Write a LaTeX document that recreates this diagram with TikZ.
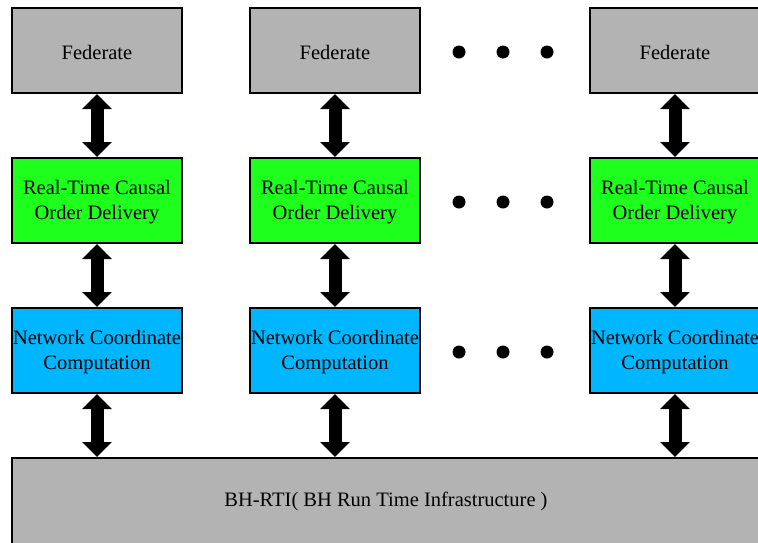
\documentclass[tikz,border=0pt]{standalone}
\usepackage{fontspec}
\setmainfont{Liberation Serif}
\usetikzlibrary{arrows.meta}
\definecolor{boxgray}{RGB}{179,179,179}
\definecolor{boxgreen}{RGB}{30,255,30}
\definecolor{boxblue}{RGB}{0,183,255}
\begin{document}
\begin{tikzpicture}[x=1pt,y=-1pt,
  blk/.style={draw=black, line width=2pt, rectangle, minimum width=170pt, minimum height=85pt, inner sep=0pt},
  txt/.style={inner sep=0pt, align=center, font=\fontsize{20.5}{25}\selectfont},
  fed/.style={blk, fill=boxgray},
  rtc/.style={blk, fill=boxgreen},
  ncc/.style={blk, fill=boxblue},
  dbl/.style={line width=13pt, {Triangle[width=29pt,length=15pt]}-{Triangle[width=29pt,length=15pt]}},
  dotc/.style={circle, fill=black, inner sep=0pt, minimum size=13pt}
]
\useasboundingbox (0,0) rectangle (758,542);
\begin{scope}
\clip (0,0) rectangle (758,542);
\foreach \n/\x in {1/97,2/335,3/675}{
  \node[fed] (f\n) at (\x,50.5) {};
  \node[txt] (f\n t) at ([yshift=-2pt]f\n.center) {Federate};
  \node[rtc] (r\n) at (\x,200.5) {};
  \node[txt] (r\n t) at ([yshift=-2pt]r\n.center) {Real-Time Causal\\Order Delivery};
  \node[ncc] (c\n) at (\x,350.5) {};
  \node[txt] (c\n t) at ([yshift=-2pt]c\n.center) {Network Coordinate\\Computation};
}
\node[blk, fill=boxgray, minimum width=748pt, minimum height=88pt] (bh) at (386,502) {};
\node[txt] (bht) at (386,501) {BH-RTI( BH Run Time Infrastructure )};
\foreach \n in {1,2,3}{
  \draw[dbl] (f\n.south) -- (r\n.north);
  \draw[dbl] (r\n.south) -- (c\n.north);
  \draw[dbl] (c\n.south) -- (c\n.south |- bh.north);
}
\foreach \y/\r in {52/a,202/b,352/c}{
  \node[dotc] (d\r1) at (459,\y) {};
  \node[dotc] (d\r2) at (503,\y) {};
  \node[dotc] (d\r3) at (547,\y) {};
}
\end{scope}
\end{tikzpicture}
\end{document}
